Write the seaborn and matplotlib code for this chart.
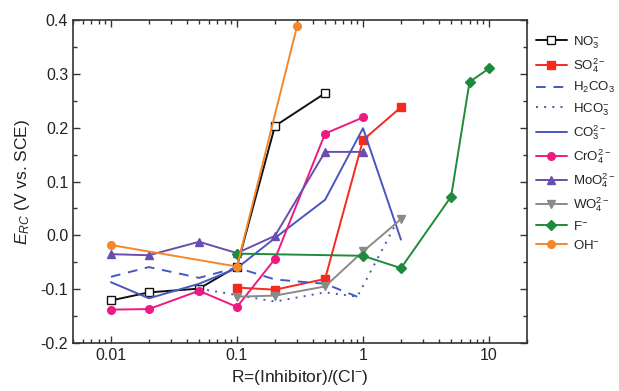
import matplotlib
matplotlib.use("Agg")
import matplotlib.pyplot as plt
import matplotlib.ticker as mticker
import seaborn as sns
import pandas as pd

# ---- data ----
no3_x = [0.01, 0.02, 0.05, 0.1, 0.2, 0.5]
no3_y = [-0.121, -0.106, -0.099, -0.058, 0.203, 0.264]
so4_x = [0.1, 0.2, 0.5, 1, 2]
so4_y = [-0.097, -0.101, -0.081, 0.177, 0.238]
h2co3_x = [0.01, 0.02, 0.05, 0.1, 0.2, 0.5, 0.9]
h2co3_y = [-0.077, -0.059, -0.079, -0.060, -0.082, -0.090, -0.114]
hco3_x = [0.05, 0.1, 0.2, 0.5, 0.9, 1.85]
hco3_y = [-0.099, -0.111, -0.123, -0.106, -0.114, 0.024]
co3_x = [0.01, 0.02, 0.05, 0.1, 0.2, 0.5, 1, 2]
co3_y = [-0.087, -0.117, -0.090, -0.061, -0.005, 0.066, 0.199, -0.008]
cro4_x = [0.01, 0.02, 0.05, 0.1, 0.2, 0.5, 1]
cro4_y = [-0.138, -0.137, -0.103, -0.133, -0.044, 0.189, 0.219]
moo4_x = [0.01, 0.02, 0.05, 0.1, 0.2, 0.5, 1]
moo4_y = [-0.035, -0.037, -0.012, -0.033, -0.001, 0.155, 0.155]
wo4_x = [0.1, 0.2, 0.5, 1, 2]
wo4_y = [-0.114, -0.112, -0.095, -0.030, 0.030]
f_x = [0.1, 1, 2, 5, 7, 10]
f_y = [-0.034, -0.038, -0.061, 0.072, 0.285, 0.310]
oh_x = [0.01, 0.1, 0.3]
oh_y = [-0.018, -0.058, 0.389]

labels = [r"NO$_3^{-}$", r"SO$_4^{2-}$", r"H$_2$CO$_3$", r"HCO$_3^{-}$", r"CO$_3^{2-}$",
          r"CrO$_4^{2-}$", r"MoO$_4^{2-}$", r"WO$_4^{2-}$", r"F$^{-}$", r"OH$^{-}$"]
xlabel = r"R=(Inhibitor)/(Cl$^{-}$)"
ylabel = r"$\mathit{E}_{\mathit{RC}}$ (V vs. SCE)"

series = [
    (no3_x, no3_y, "#111111", "s", "-", "white"),
    (so4_x, so4_y, "#f42a1e", "s", "-", None),
    (h2co3_x, h2co3_y, "#4657c0", None, (0, (5, 4)), None),
    (hco3_x, hco3_y, "#4657c0", None, (0, (1, 3.2)), None),
    (co3_x, co3_y, "#4657c0", None, "-", None),
    (cro4_x, cro4_y, "#ee1a82", "o", "-", None),
    (moo4_x, moo4_y, "#6a4db0", "^", "-", None),
    (wo4_x, wo4_y, "#8a8a8a", "v", "-", None),
    (f_x, f_y, "#1f8a3b", "D", "-", None),
    (oh_x, oh_y, "#f5862a", "o", "-", None),
]

sns.set_theme(style="white")
plt.rcParams["font.family"] = ["Liberation Sans", "DejaVu Sans"]
plt.rcParams["mathtext.fontset"] = "custom"
plt.rcParams["mathtext.rm"] = "Liberation Sans"
plt.rcParams["mathtext.it"] = "Liberation Sans:italic"
plt.rcParams["mathtext.default"] = "regular"

fig = plt.figure(figsize=(6.19, 3.91), dpi=100)
ax = fig.add_axes([73 / 619, 1 - 343 / 391, 454 / 619, 323 / 391])

for (xs, ys, col, mk, ls, mfc), lab in zip(series, labels):
    df = pd.DataFrame({"x": xs, "y": ys})
    kw = {}
    if mk is not None:
        kw = dict(marker=mk, markersize=5.5 if mk != "D" else 5.0,
                  markerfacecolor=mfc if mfc else col, markeredgecolor=col,
                  markeredgewidth=1.0)
    sns.lineplot(data=df, x="x", y="y", ax=ax, color=col, linestyle=ls,
                 linewidth=1.4, sort=False, estimator=None, label=lab, **kw)

ax.set_xscale("log")
ax.set_xlim(0.005, 20)
ax.set_ylim(-0.2, 0.4)
ax.xaxis.set_major_locator(mticker.FixedLocator([0.01, 0.1, 1, 10]))
ax.xaxis.set_major_formatter(mticker.FixedFormatter(["0.01", "0.1", "1", "10"]))
ax.xaxis.set_minor_locator(mticker.LogLocator(base=10, subs=range(2, 10)))
ax.xaxis.set_minor_formatter(mticker.NullFormatter())
ax.yaxis.set_major_locator(mticker.MultipleLocator(0.1))
ax.yaxis.set_minor_locator(mticker.MultipleLocator(0.05))
ax.yaxis.set_major_formatter(mticker.FormatStrFormatter("%.1f"))

ax.tick_params(which="both", direction="in", top=True, right=True, bottom=True, left=True,
               color="#333333", labelsize=11.5, labelcolor="#222222")
ax.tick_params(which="major", length=5, width=1)
ax.tick_params(which="minor", length=3, width=1)
for s in ax.spines.values():
    s.set_color("#333333")
    s.set_linewidth(1.2)

ax.set_xlabel(xlabel, fontsize=12.5, color="#222222", labelpad=4)
ax.set_ylabel(ylabel, fontsize=12.5, color="#222222", labelpad=6)

leg = ax.legend(loc="upper left", bbox_to_anchor=(1.0, 0.985), frameon=False,
                fontsize=9.5, handlelength=2.3, handletextpad=0.45,
                labelspacing=0.42, borderaxespad=0.3)
for t in leg.get_texts():
    t.set_color("#222222")

fig.savefig("out.png", dpi=100)
